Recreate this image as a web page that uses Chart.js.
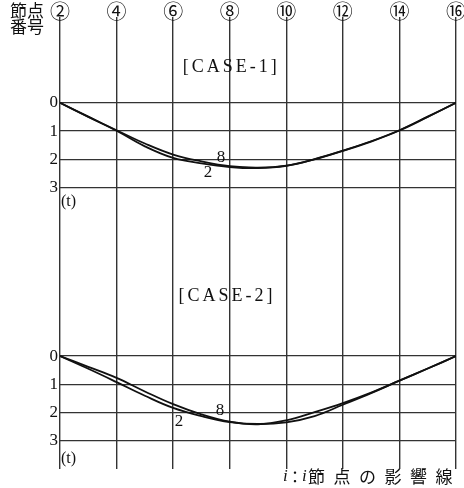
<!DOCTYPE html>
<html>
<head>
<meta charset="utf-8">
<script src="https://cdn.jsdelivr.net/npm/chart.js@4.4.1/dist/chart.umd.min.js"></script>
<style>
  html, body { margin: 0; padding: 0; background: #fff; }
  canvas { display: block; }
</style>
</head>
<body>
<canvas id="influenceChart" width="464" height="488"></canvas>
<script>
// node numbers along the girder
const nodes = [2, 3, 4, 5, 6, 7, 8, 9, 10, 11, 12, 13, 14, 15, 16];
const nodeTicks = [2, 4, 6, 8, 10, 12, 14, 16];
const circled = { 2: "②", 4: "④", 6: "⑥", 8: "⑧", 10: "⑩", 12: "⑫", 14: "⑭", 16: "⑯" };
const tonTicks = [0, 1, 2, 3];

// influence lines (t), CASE-1
const case1Node2 = [0, 0.5, 0.99, 1.54, 1.95, 2.14, 2.27, 2.31, 2.23, 2.0, 1.7, 1.37, 0.98, 0.5, 0];
const case1Node8 = [0, 0.49, 0.97, 1.44, 1.83, 2.07, 2.24, 2.29, 2.22, 1.99, 1.69, 1.36, 0.97, 0.49, 0];
// influence lines (t), CASE-2
const case2Node2 = [0, 0.45, 0.92, 1.4, 1.83, 2.12, 2.33, 2.4, 2.34, 2.12, 1.72, 1.31, 0.87, 0.44, 0];
const case2Node8 = [0, 0.38, 0.77, 1.25, 1.7, 2.06, 2.32, 2.41, 2.27, 1.98, 1.66, 1.29, 0.87, 0.44, 0];

const toPoints = vals => nodes.map((n, i) => ({ x: n, y: vals[i] }));
const lineColor = "#111";
const gridColor = "#333";
const serif = "'Liberation Serif', 'DejaVu Serif', serif";
const jp = "'Noto Sans CJK JP', sans-serif";

function curve(label, vals, axis) {
  return {
    label: label,
    data: toPoints(vals),
    yAxisID: axis,
    borderColor: lineColor,
    borderWidth: 1.8,
    pointRadius: 0,
    fill: false,
    tension: 0.4
  };
}

const textPlugin = {
  id: "texts",
  afterDraw(chart) {
    const ctx = chart.ctx;
    const x = chart.scales.x;
    const yt = chart.scales.yTop;
    const yb = chart.scales.yBot;
    ctx.save();
    ctx.fillStyle = "#111";
    ctx.textBaseline = "middle";

    // circled node numbers above the vertical grid lines
    ctx.font = "20px " + jp;
    ctx.textAlign = "center";
    nodeTicks.forEach(v => ctx.fillText(circled[v], x.getPixelForValue(v), x.bottom - 6));

    // tick labels of the lower diagram (same values as the upper axis)
    ctx.font = "17px " + serif;
    ctx.textAlign = "right";
    tonTicks.forEach(v => ctx.fillText(String(v), x.left - 2, yb.getPixelForValue(v)));

    // case titles
    ctx.font = "18px " + serif;
    ctx.textAlign = "center";
    ctx.letterSpacing = "3px";
    ctx.fillText("[CASE-1]", x.getPixelForValue(8.05), yt.getPixelForValue(-1.26));
    ctx.fillText("[CASE-2]", x.getPixelForValue(7.9), yb.getPixelForValue(-2.12));
    ctx.letterSpacing = "0px";

    // unit labels
    ctx.font = "16px " + serif;
    ctx.textAlign = "left";
    ctx.fillText("(t)", x.getPixelForValue(2) + 1, yt.getPixelForValue(3.5));
    ctx.fillText("(t)", x.getPixelForValue(2) + 1, yb.getPixelForValue(3.62));

    // curve labels
    ctx.font = "17px " + serif;
    ctx.textAlign = "center";
    ctx.fillText("8", x.getPixelForValue(7.69), yt.getPixelForValue(1.92));
    ctx.fillText("2", x.getPixelForValue(7.23), yt.getPixelForValue(2.48));
    ctx.fillText("8", x.getPixelForValue(7.66), yb.getPixelForValue(1.91));
    ctx.fillText("2", x.getPixelForValue(6.21), yb.getPixelForValue(2.3));

    // header at top left
    ctx.font = "17px " + jp;
    ctx.textAlign = "left";
    ctx.fillText("節点", 10, 11);
    ctx.fillText("番号", 10, 27);

    // footer note
    const fx = 283;
    const fy = 477;
    ctx.font = "italic 17px " + serif;
    ctx.fillText("i", fx, fy);
    ctx.font = "16px " + jp;
    ctx.fillText("：", fx + 4, fy);
    ctx.font = "italic 17px " + serif;
    ctx.fillText("i", fx + 19, fy);
    ctx.font = "17px " + jp;
    const chars = "節点の影響線";
    for (let i = 0; i < chars.length; i++) {
      ctx.fillText(chars[i], fx + 25 + i * 25.5, fy);
    }
    ctx.restore();
  }
};

const tonAxis = (min, max, width, weight, showLabels) => ({
  type: "linear",
  position: "left",
  reverse: true,
  weight: weight,
  min: min,
  max: max,
  afterBuildTicks: s => { s.ticks = tonTicks.map(v => ({ value: v })); },
  afterFit: s => { s.width = width; },
  ticks: { display: showLabels, font: { family: serif, size: 17 }, color: "#111", padding: 2 },
  grid: { color: gridColor, lineWidth: 1.3, drawTicks: false },
  border: { display: false }
});

new Chart("influenceChart", {
  type: "line",
  data: {
    datasets: [
      curve("CASE-1 2", case1Node2, "yTop"),
      curve("CASE-1 8", case1Node8, "yTop"),
      curve("CASE-2 2", case2Node2, "yBot"),
      curve("CASE-2 8", case2Node8, "yBot")
    ]
  },
  options: {
    responsive: false,
    animation: false,
    devicePixelRatio: 1,
    layout: { padding: { left: 0, top: 0, right: 8, bottom: 19 } },
    plugins: {
      legend: { display: false },
      tooltip: { enabled: false }
    },
    scales: {
      x: {
        type: "linear",
        position: "top",
        min: 2,
        max: 16,
        afterBuildTicks: s => { s.ticks = nodeTicks.map(v => ({ value: v })); },
        afterFit: s => { s.height = 17; },
        ticks: { display: false },
        grid: { color: gridColor, lineWidth: 1.4, drawTicks: false },
        border: { display: false }
      },
      yTop: tonAxis(-3.03, 12.94, 60, 2, true),
      yBot: tonAxis(-11.98, 3.99, 0, 1, false)
    }
  },
  plugins: [textPlugin]
});
</script>
</body>
</html>
